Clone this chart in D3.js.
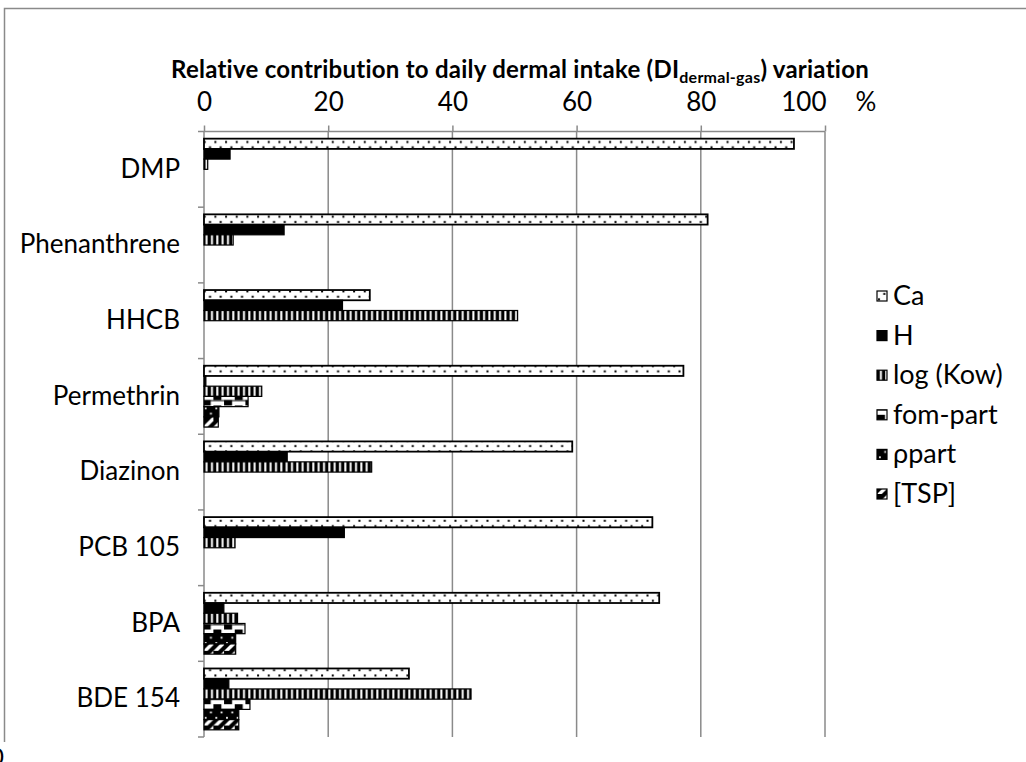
<!DOCTYPE html>
<html>
<head>
<meta charset="utf-8">
<script src="https://cdn.jsdelivr.net/npm/d3@7"></script>
<style>
  body { margin: 0; background: #fff; }
  svg { display: block; font-family: Lato, "Open Sans", sans-serif; }
</style>
</head>
<body>
<div id="chart"></div>
<script>
var categories = ['DMP', 'Phenanthrene', 'HHCB', 'Permethrin', 'Diazinon', 'PCB 105', 'BPA', 'BDE 154'];
var seriesNames = ['Ca', 'H', 'log (Kow)', 'fom-part', 'ρpart', '[TSP]'];
var xTicks = [0, 20, 40, 60, 80, 100];

var caValues     = [95.0, 81.1, 26.7, 77.2, 59.3, 72.2, 73.3, 33.0];
var hValues      = [4.2, 12.9, 22.3, 0.3, 13.4, 22.6, 3.2, 4.0];
var logKowValues = [0.6, 4.7, 50.5, 9.3, 27.0, 5.0, 5.4, 43.0];
var fomValues    = [0, 0, 0, 7.1, 0, 0, 6.6, 7.4];
var ppartValues  = [0, 0, 0, 2.4, 0, 0, 5.1, 5.6];
var tspValues    = [0, 0, 0, 2.3, 0, 0, 5.1, 5.6];

var allValues = [caValues, hValues, logKowValues, fomValues, ppartValues, tspValues];
var patternIds = ['p-ca', 'p-h', 'p-kow', 'p-fom', 'p-ppart', 'p-tsp'];

var width = 1026,
    height = 762,
    plotLeft = 204,
    plotRight = 825,
    plotTop = 131.5,
    plotBottom = 737;

var svg = d3.select('#chart').append('svg')
    .attr('width', width)
    .attr('height', height);

// fill patterns, roughly the excel 8x8 bitmaps scaled up
var defs = svg.append('defs');
var s = 10.67;

var pCa = defs.append('pattern').attr('id', 'p-ca')
    .attr('patternUnits', 'userSpaceOnUse').attr('width', s).attr('height', s);
pCa.append('rect').attr('width', s).attr('height', s).attr('fill', '#fff');
pCa.append('rect').attr('x', 1).attr('y', 2.3).attr('width', 2).attr('height', 2).attr('fill', '#000');
pCa.append('rect').attr('x', 6.3).attr('y', 7.6).attr('width', 2).attr('height', 2).attr('fill', '#000');

var pH = defs.append('pattern').attr('id', 'p-h')
    .attr('patternUnits', 'userSpaceOnUse').attr('width', s).attr('height', s);
pH.append('rect').attr('width', s).attr('height', s).attr('fill', '#000');

var pKow = defs.append('pattern').attr('id', 'p-kow')
    .attr('patternUnits', 'userSpaceOnUse').attr('width', s / 2).attr('height', s);
pKow.append('rect').attr('width', s / 2).attr('height', s).attr('fill', '#000');
pKow.append('rect').attr('x', 2.9).attr('width', 2).attr('height', s).attr('fill', '#fff');

var pFom = defs.append('pattern').attr('id', 'p-fom')
    .attr('patternUnits', 'userSpaceOnUse').attr('width', 2 * s).attr('height', s);
pFom.append('rect').attr('width', 2 * s).attr('height', s).attr('fill', '#fff');
pFom.append('rect').attr('x', 0).attr('y', 0).attr('width', s * 0.75).attr('height', s / 2).attr('fill', '#000');
pFom.append('rect').attr('x', s).attr('y', s / 2).attr('width', s * 0.75).attr('height', s / 2).attr('fill', '#000');
pFom.append('rect').attr('x', 0).attr('y', s / 2).attr('width', 2 * s).attr('height', 1).attr('fill', '#000');

var pPpart = defs.append('pattern').attr('id', 'p-ppart')
    .attr('patternUnits', 'userSpaceOnUse').attr('width', s).attr('height', s);
pPpart.append('rect').attr('width', s).attr('height', s).attr('fill', '#000');
pPpart.append('rect').attr('x', 2).attr('y', 2).attr('width', 1.8).attr('height', 1.8).attr('fill', '#fff');
pPpart.append('rect').attr('x', 7.3).attr('y', 7.3).attr('width', 1.8).attr('height', 1.8).attr('fill', '#fff');

var pTsp = defs.append('pattern').attr('id', 'p-tsp')
    .attr('patternUnits', 'userSpaceOnUse').attr('width', s).attr('height', s);
pTsp.append('rect').attr('width', s).attr('height', s).attr('fill', '#000');
pTsp.append('path').attr('d', 'M0,' + s + 'L' + s + ',0L' + s + ',' + (s * 0.45) + 'L' + (s * 0.45) + ',' + s + 'Z').attr('fill', '#fff');

// outer frame (bottom and right edge cut off in the original)
svg.append('path')
    .attr('d', 'M4.5,742V8.5H1026')
    .attr('fill', 'none')
    .attr('stroke', '#8a8a8a')
    .attr('stroke-width', 1.5);

var x = d3.scaleLinear().domain([0, 100]).range([plotLeft, plotRight]);
var y = d3.scaleBand().domain(categories).range([plotTop, plotBottom]);
var ys = d3.scaleBand().domain(seriesNames).range([0, y.bandwidth()]).paddingOuter(0.7);

// gridlines
svg.append('g').selectAll('line')
    .data(xTicks.slice(1))
    .enter().append('line')
    .attr('x1', function (d) { return x(d); })
    .attr('x2', function (d) { return x(d); })
    .attr('y1', plotTop)
    .attr('y2', plotBottom)
    .attr('stroke', '#8a8a8a')
    .attr('stroke-width', 1.5);

// top axis
var xAxis = d3.axisTop(x).tickValues(xTicks).tickSize(6).tickFormat(d3.format('d'));
var gx = svg.append('g')
    .attr('transform', 'translate(0,' + plotTop + ')')
    .call(xAxis);
gx.select('.domain').attr('stroke', '#8a8a8a').attr('stroke-width', 1.5)
    .attr('d', 'M' + plotLeft + ',0H' + plotRight);
gx.selectAll('.tick line').attr('stroke', '#8a8a8a').attr('stroke-width', 1.5);
gx.selectAll('.tick text')
    .attr('y', -21)
    .attr('font-size', 26)
    .attr('font-family', 'Lato, sans-serif')
    .attr('fill', '#000');
// last label is pulled inside, as excel does
gx.selectAll('.tick text').filter(function (d) { return d === 100; })
    .attr('text-anchor', 'end')
    .attr('x', 1);

svg.append('text')
    .attr('x', 866)
    .attr('y', 110.5)
    .attr('text-anchor', 'middle')
    .attr('font-size', 26)
    .text('%');

// left axis
var yAxis = d3.axisLeft(y).tickSize(0).tickPadding(24);
var gy = svg.append('g')
    .attr('transform', 'translate(' + plotLeft + ',0)')
    .call(yAxis);
gy.select('.domain').attr('stroke', '#8a8a8a').attr('stroke-width', 1.5)
    .attr('d', 'M0,' + plotTop + 'V' + plotBottom);
gy.selectAll('.tick text')
    .attr('font-size', 26)
    .attr('font-family', 'Lato, sans-serif')
    .attr('fill', '#000');

// category boundary ticks
svg.append('g').selectAll('line')
    .data(categories.concat(['end']))
    .enter().append('line')
    .attr('x1', plotLeft - 6)
    .attr('x2', plotLeft)
    .attr('y1', function (d, i) { return i < categories.length ? y(d) : plotBottom; })
    .attr('y2', function (d, i) { return i < categories.length ? y(d) : plotBottom; })
    .attr('stroke', '#8a8a8a')
    .attr('stroke-width', 1.5);

// bars
var barData = [];
categories.forEach(function (c, i) {
    seriesNames.forEach(function (sn, j) {
        if (allValues[j][i] > 0) {
            barData.push({ cat: c, series: sn, idx: j, value: allValues[j][i] });
        }
    });
});

svg.append('g').selectAll('rect')
    .data(barData)
    .enter().append('rect')
    .attr('x', x(0))
    .attr('y', function (d) { return y(d.cat) + ys(d.series); })
    .attr('width', function (d) { return x(d.value) - x(0); })
    .attr('height', ys.bandwidth())
    .attr('fill', function (d) { return 'url(#' + patternIds[d.idx] + ')'; })
    .attr('stroke', '#000')
    .attr('stroke-width', function (d) { return d.idx === 0 ? 1.8 : 1.2; });

// title
var title = svg.append('text')
    .attr('x', 520)
    .attr('y', 78)
    .attr('text-anchor', 'middle')
    .attr('font-size', 24)
    .attr('letter-spacing', 0.25)
    .attr('font-weight', 'bold');
title.append('tspan').text('Relative contribution to daily dermal intake (DI');
title.append('tspan').attr('font-size', 16).attr('dy', 5).text('dermal-gas');
title.append('tspan').attr('dy', -5).text(') variation');

// legend
var legend = svg.append('g').selectAll('g')
    .data(seriesNames)
    .enter().append('g')
    .attr('transform', function (d, i) { return 'translate(877,' + (296 + i * 39.6) + ')'; });
legend.append('rect')
    .attr('x', 0)
    .attr('y', -5)
    .attr('width', 10)
    .attr('height', 10)
    .attr('fill', function (d, i) { return 'url(#' + patternIds[i] + ')'; })
    .attr('stroke', '#000')
    .attr('stroke-width', 1.2);
legend.append('text')
    .attr('x', 16)
    .attr('y', 9)
    .attr('font-size', 27)
    .text(function (d) { return d; });

// clipped glyph at the very bottom-left of the original
svg.append('text')
    .attr('x', -10)
    .attr('y', 765)
    .attr('font-size', 24)
    .text('0');
</script>
</body>
</html>
